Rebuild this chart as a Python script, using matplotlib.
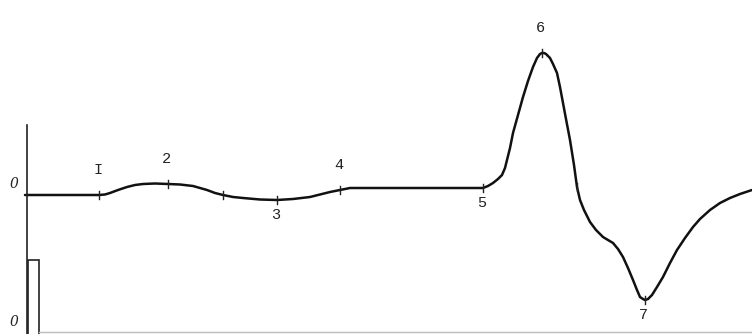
#!/usr/bin/env python3
"""Action potential trace with labelled phases"""
import numpy as np
import matplotlib.pyplot as plt

# trace: time (arbitrary units) vs amplitude (0 = baseline)
wave_x = [25, 99, 105, 110, 118, 127, 135, 143, 155, 168, 180, 193, 200, 207, 215,
          223, 233, 243, 260, 277, 293, 310, 320, 330, 340, 350, 410, 483, 488,
          493, 498, 502, 505, 507, 510, 513, 518, 523, 528, 533, 537, 540, 542,
          544, 546, 550, 553, 557, 560, 563, 566, 570, 574, 577, 580, 584, 590,
          596, 603, 608, 613, 618, 623, 628, 633, 637, 640, 643, 645, 648, 652,
          657, 663, 670, 677, 685, 693, 700, 710, 720, 730, 740, 752]
wave_y = [0, 0, 0.5, 2, 5, 8, 10, 11, 11.5, 11, 10.5, 9, 7, 5, 2,
          0, -2, -3, -4.5, -5, -4, -2, 0.5, 3, 5, 7, 7, 7, 9,
          12, 16, 20, 27, 35, 47, 62, 80, 98, 114, 128, 137, 141, 142,
          142, 141, 137, 131, 122, 108, 92, 76, 55, 30, 8, -5, -15, -27,
          -35, -42, -45, -48, -54, -62, -73, -85, -95, -102, -104, -105, -104, -100,
          -92, -82, -68, -55, -43, -32, -24, -15, -8, -3, 1, 5]

# labelled points on the trace
mark_x = [99, 168, 277, 340, 483, 542, 645]
mark_labels = ['I', '2', '3', '4', '5', '6', '7']
mark_above = [True, True, False, True, False, True, False]
# extra unlabelled ticks
tick_x = [223, 577]

# stimulus marker
stim_x = 33.5
stim_w = 11
stim_top = -65

fig = plt.figure(figsize=(7.52, 3.34), dpi=100)
ax = fig.add_axes([0, 0, 1, 1])
ax.set_xlim(0, 752)
ax.set_ylim(-139, 195)
ax.axis('off')

ax.plot(wave_x, wave_y, color='#111111', lw=1.8, solid_joinstyle='round',
        solid_capstyle='round')

# small vertical ticks crossing the trace
for x in mark_x + tick_x:
    y = np.interp(x, wave_x, wave_y)
    ax.plot([x, x], [y - 4, y + 4], color='#222222', lw=1.0)

for x, lab, up in zip(mark_x, mark_labels, mark_above):
    y = np.interp(x, wave_x, wave_y)
    off = 18 if up else -11
    ax.annotate(lab, (x, y), xytext=(-1, off), textcoords='offset points',
                ha='center', va='center', fontsize=11, family='Liberation Mono',
                color='#222222')

# vertical axis and zero labels
ax.plot([27, 27], [70, -139], color='#222222', lw=1.2)
ax.text(14, 11, '0', ha='center', va='center', fontsize=10, style='italic',
        family='DejaVu Serif', color='#222222')
ax.text(14, -127, '0', ha='center', va='center', fontsize=10, style='italic',
        family='DejaVu Serif', color='#222222')

# stimulus bar and bottom line
ax.bar([stim_x], [stim_top + 145], width=stim_w, bottom=-145, fill=False,
       edgecolor='#222222', lw=1.2)
ax.plot([39, 752], [-137, -137], color='#bbbbbb', lw=1.0)

plt.savefig('out.png', dpi=100, facecolor='white')
plt.close()
